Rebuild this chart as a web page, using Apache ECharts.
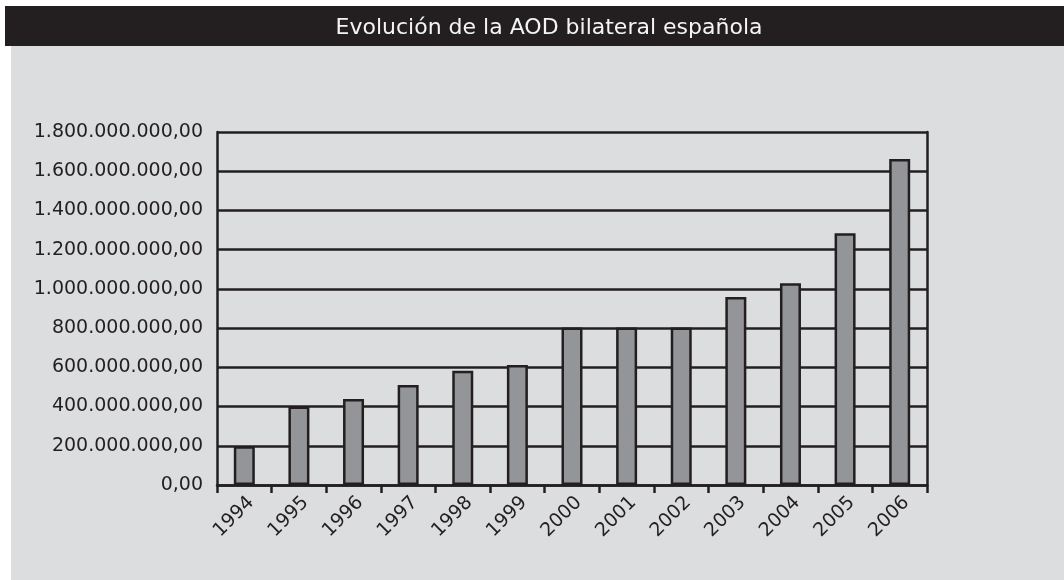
<!DOCTYPE html>
<html>
<head>
<meta charset="utf-8">
<script src="https://cdn.jsdelivr.net/npm/echarts@6/dist/echarts.min.js"></script>
<style>
  html, body { margin: 0; padding: 0; background: #ffffff; }
</style>
</head>
<body>
<div id="mainChart" style="width: 1064px; height: 580px"></div>
<script>
// AOD bilateral española, euros por año
var years = ["1994", "1995", "1996", "1997", "1998", "1999", "2000",
  "2001", "2002", "2003", "2004", "2005", "2006"];
var aod = [197000000, 400000000, 438000000, 510000000, 582000000, 612000000,
  803000000, 803000000, 803000000, 959000000, 1029000000, 1284000000, 1662000000];
var yMin = 0;
var yMax = 1800000000;
var yStep = 200000000;

// 1800000000 -> "1.800.000.000,00"
function fmtEs(v) {
  var s = Math.round(v).toString().replace(/\B(?=(\d{3})+(?!\d))/g, ".");
  return s + ",00";
}

var chart = echarts.init(document.getElementById("mainChart"));
var ink = "#231f20";
var labelFont = "'DejaVu Sans', sans-serif";
var option = {
  backgroundColor: "#ffffff",
  animation: false,
  graphic: [
    {
      type: "rect",
      z: -10,
      shape: { x: 11, y: 46, width: 1053, height: 534 },
      style: { fill: "#dcdddf" },
    },
    {
      type: "rect",
      z: -10,
      shape: { x: 5, y: 6, width: 1059, height: 40 },
      style: { fill: ink },
    },
  ],
  title: {
    text: "Evolución de la AOD bilateral española",
    left: 544,
    textAlign: "center",
    top: 12,
    textStyle: {
      color: "#f4f4f4",
      fontFamily: labelFont,
      fontWeight: "normal",
      fontSize: 22,
    },
  },
  grid: {
    left: 217,
    right: 137,
    top: 132,
    bottom: 95,
  },
  xAxis: {
    type: "category",
    data: years,
    boundaryGap: true,
    axisLine: { lineStyle: { color: ink, width: 2.5 } },
    axisTick: { show: true, length: 8, lineStyle: { color: ink, width: 2.5 } },
    axisLabel: {
      rotate: 45,
      margin: 8,
      verticalAlign: "top",
      color: ink,
      fontFamily: labelFont,
      fontSize: 19,
    },
  },
  yAxis: [
    {
      type: "value",
      min: yMin,
      max: yMax,
      interval: yStep,
      axisLine: { show: true, lineStyle: { color: ink, width: 2.5 } },
      axisTick: { show: false },
      splitLine: { lineStyle: { color: ink, width: 2.5 } },
      axisLabel: {
        formatter: fmtEs,
        margin: 14,
        color: ink,
        fontFamily: labelFont,
        fontSize: 19,
      },
    },
    {
      type: "value",
      position: "right",
      min: yMin,
      max: yMax,
      interval: yStep,
      axisLine: { show: true, lineStyle: { color: ink, width: 2.5 } },
      axisTick: { show: false },
      splitLine: { show: false },
      axisLabel: { show: false },
    },
  ],
  series: [
    {
      name: "AOD",
      type: "bar",
      barWidth: 21,
      data: aod,
      itemStyle: {
        color: "#939598",
        borderColor: ink,
        borderWidth: 2.5,
      },
    },
  ],
};
chart.setOption(option);
</script>
</body>
</html>
